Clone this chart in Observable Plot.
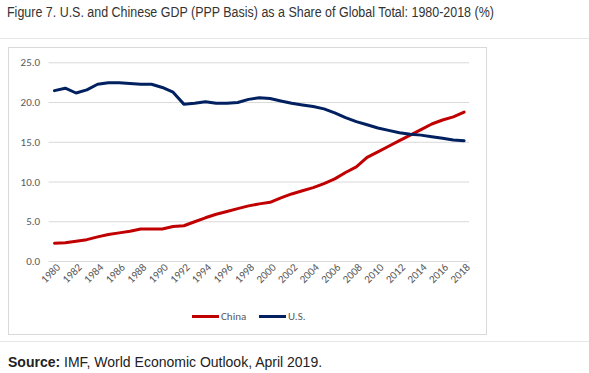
<!DOCTYPE html>
<html>
<head>
<meta charset="utf-8">
<script src="https://cdn.jsdelivr.net/npm/d3@7"></script>
<script src="https://cdn.jsdelivr.net/npm/@observablehq/plot@0.6"></script>
<style>
  html, body { margin: 0; padding: 0; background: #fff; }
  body { width: 589px; height: 373px; position: relative; overflow: hidden; font-family: "Liberation Sans", Arial, sans-serif; }
  #title { position: absolute; left: 7px; top: 4px; font-size: 14px; color: #333; white-space: nowrap; transform: scaleX(0.89); transform-origin: left top; }
  #rule1 { position: absolute; left: 0; top: 38px; width: 589px; height: 1px; background: #e6e6e6; }
  #box { position: absolute; left: 8px; top: 47px; width: 479px; height: 288px; border: 1px solid #d9d9d9; box-sizing: border-box; }
  #plot { position: absolute; left: 0; top: 0; }
  #legend { position: absolute; left: 0; top: 261px; width: 100%; font-family: Carlito, Calibri, "Open Sans", sans-serif; font-size: 11px; color: #595959; }
  .lg { position: absolute; top: 0; display: flex; align-items: center; height: 14px; }
  .sw { display: inline-block; width: 27px; height: 3px; margin-right: 2px; }
  #rule2 { position: absolute; left: 0; top: 341px; width: 589px; height: 1px; background: #e6e6e6; }
  #source { position: absolute; left: 8px; top: 354px; font-size: 14px; color: #222; white-space: nowrap; }
</style>
</head>
<body>
<div id="title">Figure 7. U.S. and Chinese GDP (PPP Basis) as a Share of Global Total: 1980-2018 (%)</div>
<div id="rule1"></div>
<div id="box">
  <div id="plot"></div>
  <div id="legend">
    <div class="lg" style="left:183px"><span class="sw" style="background:#C00000"></span>China</div>
    <div class="lg" style="left:250px"><span class="sw" style="background:#002060"></span>U.S.</div>
  </div>
</div>
<div id="rule2"></div>
<div id="source"><b>Source:</b> IMF, World Economic Outlook, April 2019.</div>
<script>
const years = d3.range(1980, 2019);
const china = [2.3, 2.35, 2.55, 2.75, 3.1, 3.4, 3.6, 3.8, 4.1, 4.1, 4.1, 4.4, 4.5, 5.0, 5.5, 5.95, 6.3, 6.65, 7.0, 7.25, 7.45, 8.0, 8.5, 8.9, 9.3, 9.8, 10.4, 11.2, 11.9, 13.1, 13.8, 14.5, 15.2, 15.9, 16.6, 17.3, 17.8, 18.2, 18.8];
const us = [21.5, 21.8, 21.2, 21.6, 22.3, 22.5, 22.5, 22.4, 22.3, 22.3, 21.9, 21.3, 19.8, 19.9, 20.1, 19.9, 19.9, 20.0, 20.4, 20.6, 20.5, 20.2, 19.9, 19.7, 19.5, 19.2, 18.7, 18.1, 17.6, 17.2, 16.8, 16.5, 16.2, 16.0, 15.9, 15.7, 15.5, 15.3, 15.2];
const yTicks = [0, 5, 10, 15, 20, 25];
const xTicks = d3.range(1980, 2019, 2);
const series = [
  {name: "China", values: china, color: "#C00000"},
  {name: "U.S.", values: us, color: "#002060"}
];
const rows = series.flatMap(s => years.map((yr, i) => ({year: yr, value: s.values[i], name: s.name})));

const chart = Plot.plot({
  width: 477,
  height: 286,
  marginLeft: 39.6,
  marginRight: 17,
  marginTop: 14.3,
  marginBottom: 73,
  style: {background: "transparent", fontFamily: "Carlito, Calibri, 'Open Sans', sans-serif", fontSize: "11px", color: "#595959"},
  x: {domain: [1979.5, 2018.5], label: null},
  y: {domain: [0, 25], label: null},
  color: {domain: series.map(s => s.name), range: series.map(s => s.color)},
  marks: [
    Plot.ruleY(yTicks, {x1: 1979.5, x2: 2018.5, stroke: "#d9d9d9", strokeWidth: 1}),
    Plot.axisY(yTicks, {tickSize: 0, tickPadding: 9, tickFormat: d3.format(".1f"), fill: "#595959", fontSize: 11, label: null}),
    Plot.axisX(xTicks, {tickSize: 0, tickPadding: 4, tickRotate: -45, tickFormat: d => String(d), fill: "#595959", fontSize: 11, dx: 4, label: null}),
    Plot.lineY(rows, {x: "year", y: "value", z: "name", stroke: "name", strokeWidth: 3, strokeLinejoin: "round", strokeLinecap: "round"})
  ]
});
document.getElementById("plot").appendChild(chart);
</script>
</body>
</html>
